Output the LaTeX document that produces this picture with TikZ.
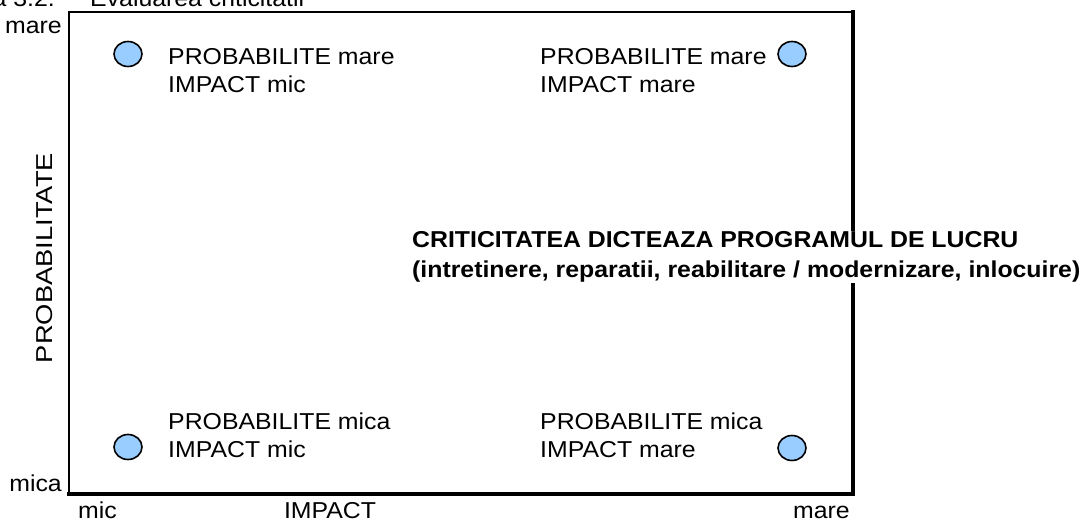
\documentclass[tikz,border=0pt]{standalone}
\usepackage{fontspec}
\setmainfont{Liberation Sans}[FakeStretch=1.08]
\usetikzlibrary{shapes.geometric}
\definecolor{dotblue}{HTML}{99CCFF}
\begin{document}
\begin{tikzpicture}[x=1pt,y=-1pt,
  lbl/.style={font=\fontsize{23}{28}\selectfont, inner sep=0pt, align=left},
  axis/.style={font=\fontsize{23}{28}\selectfont, inner sep=0pt},
  dot/.style={draw=black, line width=1.6pt, fill=dotblue, ellipse,
    minimum width=28pt, minimum height=25pt, inner sep=0pt},
  note/.style={font=\bfseries\fontsize{23}{30}\selectfont, align=left,
    fill=white, inner sep=1pt}]
\useasboundingbox (0,0) rectangle (1082,522);

% caption, partly cut off at the top edge
\node[axis, anchor=base east] (capnum) at (55,6) {Figura 3.2.};
\node[axis, anchor=base west] (captxt) at (90,6) {Evaluarea criticitatii};

% frame of the matrix
\coordinate (nw) at (69,12);
\coordinate (ne) at (853,12);
\coordinate (se) at (853,494);
\coordinate (sw) at (69,494);
\draw[line width=2.4pt] (sw) -- (nw) -- (ne);
\draw[line width=3.4pt, line cap=rect] (ne) -- (se) -- (sw);

% axis labels
\node[axis, anchor=base east] (ymax) at (62,33) {mare};
\node[axis, anchor=base east] (ymin) at (62,491) {mica};
\node[axis, rotate=90] (ylab) at (45,258) {\scalebox{1.1}[1]{PROBABILITATE}};
\node[axis, anchor=base west] (xmin) at (78,518) {mic};
\node[axis, anchor=base] (xlab) at (330,518) {IMPACT};
\node[axis, anchor=base east] (xmax) at (850,518) {mare};

% quadrant markers
\node[dot] (d1) at (128,54) {};
\node[dot] (d2) at (792,54) {};
\node[dot] (d3) at (128,447) {};
\node[dot] (d4) at (792,448) {};

% quadrant descriptions
\node[lbl, anchor=north west] (q1) at (168,48) {PROBABILITE mare\\IMPACT mic};
\node[lbl, anchor=north west] (q2) at (540,48) {PROBABILITE mare\\IMPACT mare};
\node[lbl, anchor=north west] (q3) at (168,413) {PROBABILITE mica\\IMPACT mic};
\node[lbl, anchor=north west] (q4) at (540,413) {PROBABILITE mica\\IMPACT mare};

% central statement over the right edge
\node[note, anchor=west] (crit) at (411,257) {CRITICITATEA DICTEAZA PROGRAMUL DE LUCRU\\(intretinere, reparatii, reabilitare / modernizare, inlocuire)};
\end{tikzpicture}
\end{document}
